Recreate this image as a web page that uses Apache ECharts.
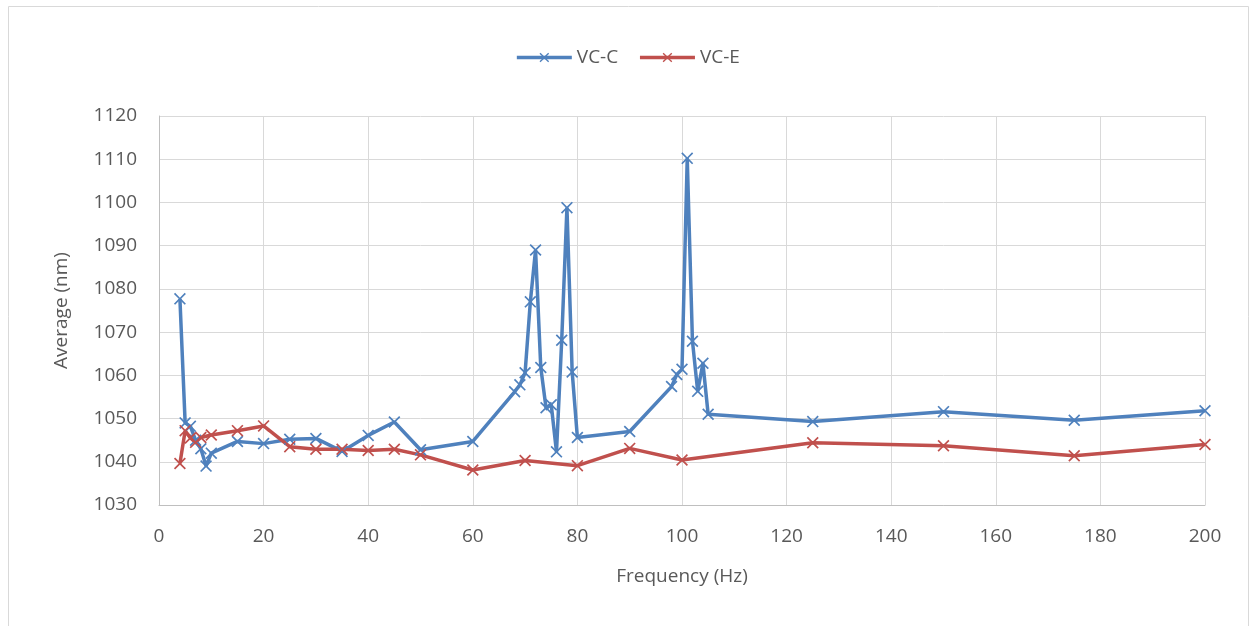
<!DOCTYPE html>
<html>
<head>
<meta charset="utf-8">
<script src="https://cdn.jsdelivr.net/npm/echarts@6/dist/echarts.min.js"></script>
<style>
  html, body { margin: 0; padding: 0; background: #fff; }
  #chart { width: 1255px; height: 626px; }
</style>
</head>
<body>
<div id="chart"></div>
<script>
// frequency (Hz) and average (nm)
const freqC = [4, 5, 6, 7, 8, 9, 10, 15, 20, 25, 30, 35, 40, 45, 50, 60,
  68, 69, 70, 71, 72, 73, 74, 75, 76, 77, 78, 79, 80, 90,
  98, 99, 100, 101, 102, 103, 104, 105, 125, 150, 175, 200];
const avgC = [1077.7, 1049, 1048.2, 1045, 1043, 1039, 1042, 1044.7, 1044.2, 1045.2, 1045.4, 1042.4, 1046.1, 1049.2, 1042.8, 1044.7,
  1056.2, 1057.8, 1060.6, 1077, 1089, 1061.8, 1052.5, 1053.2, 1042.3, 1068.1, 1098.8, 1060.8, 1045.6, 1047,
  1057.4, 1060.2, 1061.4, 1110.2, 1067.9, 1056.3, 1062.8, 1051, 1049.3, 1051.6, 1049.6, 1051.8];

const freqE = [4, 5, 6, 7, 8, 10, 15, 20, 25, 30, 35, 40, 45, 50, 60, 70, 80, 90, 100, 125, 150, 175, 200];
const avgE = [1039.6, 1047.2, 1045.5, 1044.5, 1045.6, 1046.2, 1047.2, 1048.3, 1043.5, 1042.9, 1042.9, 1042.6, 1042.9, 1041.6, 1038.1, 1040.3, 1039.1, 1043.1, 1040.4, 1044.4, 1043.7, 1041.4, 1044.0];

const pair = (xs, ys) => xs.map((x, i) => [x, ys[i]]);

// cross marker like excel's "x"
const cross = 'path://M0,1L1,0L5,4L9,0L10,1L6,5L10,9L9,10L5,6L1,10L0,9L4,5Z';
const font = '"Open Sans", "Noto Sans", sans-serif';
const txt = '#595959';

const chart = echarts.init(document.getElementById('chart'));
chart.setOption({
  animation: false,
  textStyle: { fontFamily: font },
  graphic: [{
    type: 'rect',
    shape: { x: 8.5, y: 6.5, width: 1240, height: 660 },
    style: { fill: 'none', stroke: '#d9d9d9', lineWidth: 1 },
    silent: true
  }],
  legend: {
    top: 43,
    left: 'center',
    itemWidth: 55,
    itemHeight: 12,
    itemGap: 20,
    textStyle: { color: txt, fontSize: 19, fontFamily: font },
    lineStyle: { width: 3.5 },
    data: ['VC-C', 'VC-E']
  },
  grid: { left: 159, right: 50, top: 116, bottom: 121 },
  xAxis: {
    type: 'value',
    min: 0, max: 200, interval: 20,
    name: 'Frequency (Hz)',
    nameLocation: 'center',
    nameGap: 62,
    nameTextStyle: { color: txt, fontSize: 19, fontFamily: font },
    axisLine: { show: true, lineStyle: { color: '#bfbfbf', width: 1 } },
    axisTick: { show: false },
    axisLabel: { color: txt, fontSize: 19, margin: 22, fontFamily: font },
    splitLine: { show: true, lineStyle: { color: '#d9d9d9', width: 1 } }
  },
  yAxis: {
    type: 'value',
    min: 1030, max: 1120, interval: 10,
    name: 'Average (nm)',
    nameLocation: 'center',
    nameGap: 88,
    nameTextStyle: { color: txt, fontSize: 19, fontFamily: font },
    axisLine: { show: true, lineStyle: { color: '#bfbfbf', width: 1 } },
    axisTick: { show: false },
    axisLabel: { color: txt, fontSize: 19, margin: 22, fontFamily: font, formatter: v => String(v) },
    splitLine: { show: true, lineStyle: { color: '#d9d9d9', width: 1 } }
  },
  series: [
    {
      name: 'VC-C',
      type: 'line',
      data: pair(freqC, avgC),
      symbol: cross,
      symbolSize: 12,
      color: '#4f81bd',
      lineStyle: { width: 3.5, color: '#4f81bd' },
      itemStyle: { color: '#4f81bd' }
    },
    {
      name: 'VC-E',
      type: 'line',
      data: pair(freqE, avgE),
      symbol: cross,
      symbolSize: 12,
      color: '#c0504d',
      lineStyle: { width: 3.5, color: '#c0504d' },
      itemStyle: { color: '#c0504d' }
    }
  ]
});
</script>
</body>
</html>
